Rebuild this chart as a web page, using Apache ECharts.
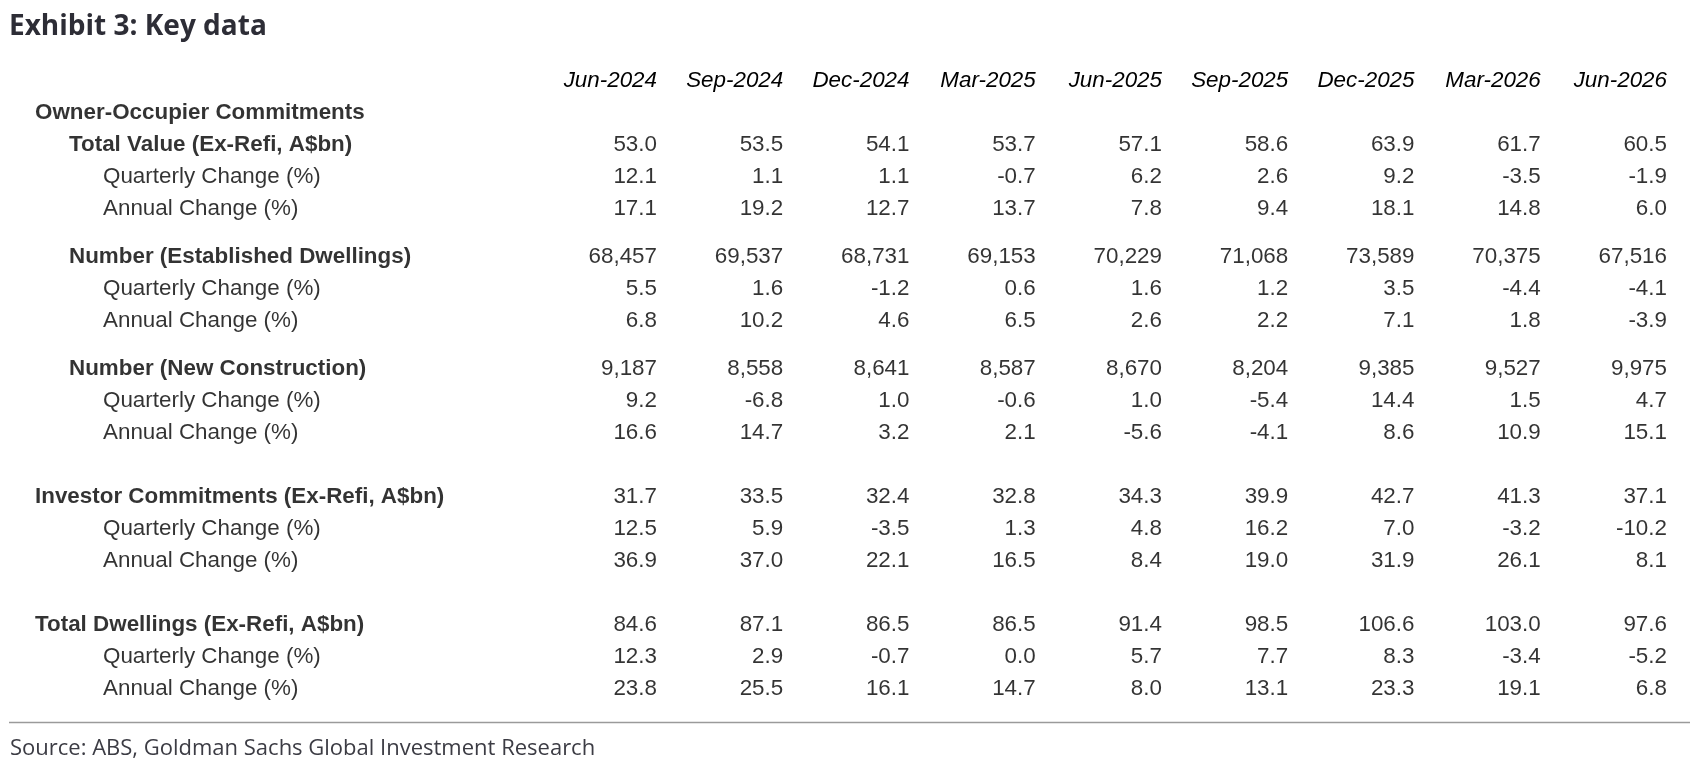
<!DOCTYPE html>
<html>
<head>
<meta charset="utf-8">
<title>Exhibit 3: Key data</title>
<script src="https://cdn.jsdelivr.net/npm/echarts@6/dist/echarts.min.js"></script>
<style>
  html, body { margin: 0; padding: 0; background: #fff; }
  #chart { width: 1690px; height: 764px; }
</style>
</head>
<body>
<div id="chart"></div>
<script>
"use strict";

// Column headers (quarters).
var periods = ['Jun-2024', 'Sep-2024', 'Dec-2024', 'Mar-2025', 'Jun-2025',
  'Sep-2025', 'Dec-2025', 'Mar-2026', 'Jun-2026'];

// Row labels and their indent level (0 = section, 1 = sub-section, 2 = change rows).
var rowLabels = [
  'Owner-Occupier Commitments',
  'Total Value (Ex-Refi, A$bn)', 'Quarterly Change (%)', 'Annual Change (%)',
  'Number (Established Dwellings)', 'Quarterly Change (%)', 'Annual Change (%)',
  'Number (New Construction)', 'Quarterly Change (%)', 'Annual Change (%)',
  'Investor Commitments (Ex-Refi, A$bn)', 'Quarterly Change (%)', 'Annual Change (%)',
  'Total Dwellings (Ex-Refi, A$bn)', 'Quarterly Change (%)', 'Annual Change (%)'
];
var rowLevels = [0, 1, 2, 2, 1, 2, 2, 1, 2, 2, 0, 2, 2, 0, 2, 2];

// Series values, one array per table row.
var ooValue = [53.0, 53.5, 54.1, 53.7, 57.1, 58.6, 63.9, 61.7, 60.5];
var ooValueQ = [12.1, 1.1, 1.1, -0.7, 6.2, 2.6, 9.2, -3.5, -1.9];
var ooValueA = [17.1, 19.2, 12.7, 13.7, 7.8, 9.4, 18.1, 14.8, 6.0];
var ooEstablished = [68457, 69537, 68731, 69153, 70229, 71068, 73589, 70375, 67516];
var ooEstablishedQ = [5.5, 1.6, -1.2, 0.6, 1.6, 1.2, 3.5, -4.4, -4.1];
var ooEstablishedA = [6.8, 10.2, 4.6, 6.5, 2.6, 2.2, 7.1, 1.8, -3.9];
var ooNew = [9187, 8558, 8641, 8587, 8670, 8204, 9385, 9527, 9975];
var ooNewQ = [9.2, -6.8, 1.0, -0.6, 1.0, -5.4, 14.4, 1.5, 4.7];
var ooNewA = [16.6, 14.7, 3.2, 2.1, -5.6, -4.1, 8.6, 10.9, 15.1];
var investor = [31.7, 33.5, 32.4, 32.8, 34.3, 39.9, 42.7, 41.3, 37.1];
var investorQ = [12.5, 5.9, -3.5, 1.3, 4.8, 16.2, 7.0, -3.2, -10.2];
var investorA = [36.9, 37.0, 22.1, 16.5, 8.4, 19.0, 31.9, 26.1, 8.1];
var totalDwellings = [84.6, 87.1, 86.5, 86.5, 91.4, 98.5, 106.6, 103.0, 97.6];
var totalDwellingsQ = [12.3, 2.9, -0.7, 0.0, 5.7, 7.7, 8.3, -3.4, -5.2];
var totalDwellingsA = [23.8, 25.5, 16.1, 14.7, 8.0, 13.1, 23.3, 19.1, 6.8];

// Rows in table order (null = heading row without values), with the number format.
var rowValues = [null, ooValue, ooValueQ, ooValueA, ooEstablished, ooEstablishedQ,
  ooEstablishedA, ooNew, ooNewQ, ooNewA, investor, investorQ, investorA,
  totalDwellings, totalDwellingsQ, totalDwellingsA];
var rowFormat = ['', 'dec', 'dec', 'dec', 'int', 'dec', 'dec', 'int', 'dec', 'dec',
  'dec', 'dec', 'dec', 'dec', 'dec', 'dec'];

// Layout: space above each row, in row heights.
var rowGapBefore = [0, 1, 1, 1, 1.5, 1, 1, 1.5, 1, 1, 2, 1, 1, 2, 1, 1];

var rowPos = [];
rowGapBefore.reduce(function (acc, gap) {
  var p = acc + gap;
  rowPos.push(p);
  return p;
}, 0);
var lastRow = rowPos[rowPos.length - 1];

function fmt(v, kind) {
  if (kind === 'int') {
    return v.toLocaleString('en-US');
  }
  return v.toFixed(1);
}

// Row labels sit at x = indent level on the label grid's axis.
var labelData = rowLabels.map(function (name, r) {
  return {
    value: [rowLevels[r], rowPos[r], name],
    label: { fontWeight: rowLevels[r] < 2 ? 'bold' : 'normal' }
  };
});

var cellData = [];
rowValues.forEach(function (vals, r) {
  if (!vals) return;
  vals.forEach(function (v, c) {
    cellData.push([c, rowPos[r], fmt(v, rowFormat[r])]);
  });
});

var tableFont = "'Liberation Sans', Arial, sans-serif";
var tableSize = 22.4;
var gridTop = 113;
var gridBottom = 75;

var chart = echarts.init(document.getElementById('chart'), null, { renderer: 'canvas' });
chart.setOption({
  backgroundColor: '#fff',
  animation: false,
  title: [{
    text: 'Exhibit 3: Key data',
    left: 4,
    top: 8,
    textStyle: {
      fontFamily: "'Open Sans'",
      fontWeight: 'bold',
      fontSize: 28,
      color: '#2d2d36'
    }
  }, {
    text: 'Source: ABS, Goldman Sachs Global Investment Research',
    left: 5,
    top: 733,
    textStyle: {
      fontFamily: "'Open Sans'",
      fontWeight: 'normal',
      fontSize: 22,
      color: '#3c3c44'
    }
  }],
  graphic: [{
    type: 'line',
    shape: { x1: 9, y1: 722.5, x2: 1690, y2: 722.5 },
    style: { stroke: '#9a9a9a', lineWidth: 1.5 }
  }],
  grid: [
    // row label column
    { left: 35, width: 68, top: gridTop, bottom: gridBottom },
    // value columns
    { left: 657, right: 23, top: gridTop, bottom: gridBottom }
  ],
  xAxis: [{
    gridIndex: 0,
    type: 'value',
    min: 0,
    max: 2,
    show: false
  }, {
    gridIndex: 1,
    type: 'category',
    data: periods,
    position: 'top',
    boundaryGap: false,
    axisLine: { show: false },
    axisTick: { show: false },
    splitLine: { show: false },
    axisLabel: {
      interval: 0,
      align: 'right',
      verticalAlign: 'middle',
      margin: 32,
      fontFamily: tableFont,
      fontStyle: 'italic',
      fontSize: tableSize,
      color: '#000'
    }
  }],
  yAxis: [0, 1].map(function (g) {
    return {
      gridIndex: g,
      type: 'value',
      inverse: true,
      min: 0,
      max: lastRow,
      show: false
    };
  }),
  series: [{
    type: 'scatter',
    xAxisIndex: 0,
    yAxisIndex: 0,
    symbolSize: 0,
    silent: true,
    clip: false,
    data: labelData,
    label: {
      show: true,
      position: 'right',
      distance: 0,
      fontFamily: tableFont,
      fontSize: tableSize,
      color: '#000',
      formatter: function (p) { return p.value[2]; }
    }
  }, {
    type: 'scatter',
    xAxisIndex: 1,
    yAxisIndex: 1,
    symbolSize: 0,
    silent: true,
    clip: false,
    data: cellData,
    label: {
      show: true,
      position: 'left',
      distance: 0,
      fontFamily: tableFont,
      fontSize: tableSize,
      color: '#000',
      formatter: function (p) { return p.value[2]; }
    }
  }]
});
</script>
</body>
</html>
